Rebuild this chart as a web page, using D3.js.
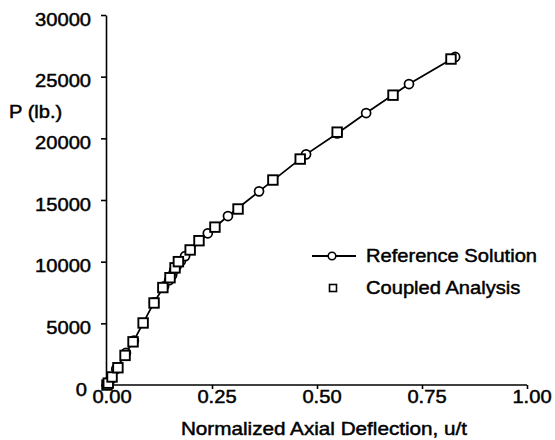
<!DOCTYPE html>
<html>
<head>
<meta charset="utf-8">
<script src="https://cdn.jsdelivr.net/npm/d3@7/dist/d3.min.js"></script>
<style>
  html, body { margin: 0; padding: 0; background: #fff; }
  svg { display: block; }
  text { font-family: "Liberation Sans", Arial, Helvetica, sans-serif; fill: #000; stroke: #000; stroke-width: 0.45px; }
</style>
</head>
<body>
<svg id="chart" width="555" height="440"></svg>
<script>
// ---- data ----
const refU = [0, 0.008, 0.022, 0.045, 0.064, 0.112, 0.136, 0.148, 0.155, 0.160, 0.167, 0.176, 0.186, 0.240, 0.288, 0.362, 0.474, 0.548, 0.617, 0.719, 0.829];
const refP = [0, 400, 1300, 2600, 3600, 6700, 8000, 8500, 8900, 9300, 9700, 10050, 10450, 12300, 13700, 15700, 18700, 20400, 22050, 24400, 26600];
const coupledU = [0, 0.003, 0.012, 0.026, 0.043, 0.062, 0.086, 0.112, 0.133, 0.150, 0.162, 0.170, 0.198, 0.219, 0.257, 0.312, 0.395, 0.460, 0.548, 0.681, 0.819];
const coupledP = [0, 150, 650, 1400, 2400, 3500, 5030, 6650, 7900, 8700, 9500, 10000, 10950, 11700, 12800, 14270, 16620, 18320, 20500, 23500, 26430];
const xTicks = [0, 0.25, 0.5, 0.75, 1.0];
const xTickLabels = ["0.00", "0.25", "0.50", "0.75", "1.00"];
const yTicks = [0, 5000, 10000, 15000, 20000, 25000, 30000];
const yTickLabels = ["0", "5000", "10000", "15000", "20000", "25000", "30000"];
const seriesNames = ["Reference Solution", "Coupled Analysis"];
const xTitle = "Normalized Axial Deflection, u/t";
const yTitle = "P (lb.)";

// ---- layout ----
const svg = d3.select("#chart");
const x = d3.scaleLinear().domain([0, 1]).range([107, 527]);
const y = d3.scaleLinear().domain([0, 30000]).range([385, 15]);
const SX = 1.15; // horizontal stretch of the scanned lettering

// axes
const xAxis = d3.axisBottom(x).tickValues(xTicks).tickSize(4).tickSizeOuter(0).tickFormat(() => "");
const gx = svg.append("g").attr("transform", `translate(0,${y(0)})`).call(xAxis);
const yAxis = d3.axisLeft(y).tickValues(yTicks).tickSize(5).tickSizeOuter(0).tickFormat(() => "");
const gy = svg.append("g").attr("transform", `translate(${x(0) - 1},0)`).call(yAxis);
[gx, gy].forEach(g => {
  g.select(".domain").attr("stroke", "#000").attr("stroke-width", 1.6);
  g.selectAll(".tick line").attr("stroke", "#000").attr("stroke-width", 1.6);
});
gx.select(".domain").attr("d", `M${x(0) - 1},0H${x(1)}`);

// tick labels
xTicks.forEach((v, i) => {
  svg.append("text")
    .attr("transform", `translate(${x(v) + 5},403) scale(${SX},1)`)
    .attr("text-anchor", "middle")
    .style("font-size", "17.5px")
    .text(xTickLabels[i]);
});
yTicks.forEach((v, i) => {
  svg.append("text")
    .attr("transform", `translate(${v === 0 ? 87 : 91},${y(v) + 10.5}) scale(${SX},1)`)
    .attr("text-anchor", "end")
    .style("font-size", "17.5px")
    .text(yTickLabels[i]);
});

// titles
svg.append("text")
  .attr("transform", `translate(324,435) scale(${SX},1)`)
  .attr("text-anchor", "middle")
  .style("font-size", "18px")
  .text(xTitle);
svg.append("text")
  .attr("transform", `translate(9,118) scale(${SX},1)`)
  .attr("text-anchor", "start")
  .style("font-size", "17.5px")
  .text(yTitle);

// reference solution line + circles
const refData = refU.map((u, i) => ({ u, p: refP[i] }));
const coupledData = coupledU.map((u, i) => ({ u, p: coupledP[i] }));
svg.append("path")
  .datum(refData)
  .attr("fill", "none")
  .attr("stroke", "#000")
  .attr("stroke-width", 1.8)
  .attr("d", d3.line().x(d => x(d.u)).y(d => y(d.p)));
svg.append("g").selectAll("circle").data(refData).join("circle")
  .attr("cx", d => x(d.u)).attr("cy", d => y(d.p)).attr("r", 4.5)
  .attr("fill", "#fff").attr("stroke", "#000").attr("stroke-width", 1.7);

// coupled analysis squares
const S = 9.5;
svg.append("g").selectAll("rect").data(coupledData).join("rect")
  .attr("x", d => x(d.u) - S / 2).attr("y", d => y(d.p) - S / 2)
  .attr("width", S).attr("height", S)
  .attr("fill", "#fff").attr("stroke", "#000").attr("stroke-width", 1.9);

// legend
const lg = svg.append("g");
lg.append("line").attr("x1", 312).attr("x2", 356).attr("y1", 256).attr("y2", 256)
  .attr("stroke", "#000").attr("stroke-width", 1.8);
lg.append("circle").attr("cx", 332).attr("cy", 256).attr("r", 3.8)
  .attr("fill", "#fff").attr("stroke", "#000").attr("stroke-width", 1.6);
lg.append("rect").attr("x", 329.5).attr("y", 284.5).attr("width", 7).attr("height", 7)
  .attr("fill", "#fff").attr("stroke", "#000").attr("stroke-width", 1.6);
lg.append("text").attr("transform", `translate(366,262) scale(${SX},1)`)
  .style("font-size", "17.5px").text(seriesNames[0]);
lg.append("text").attr("transform", `translate(366,294) scale(${SX},1)`)
  .style("font-size", "17.5px").text(seriesNames[1]);
</script>
</body>
</html>
